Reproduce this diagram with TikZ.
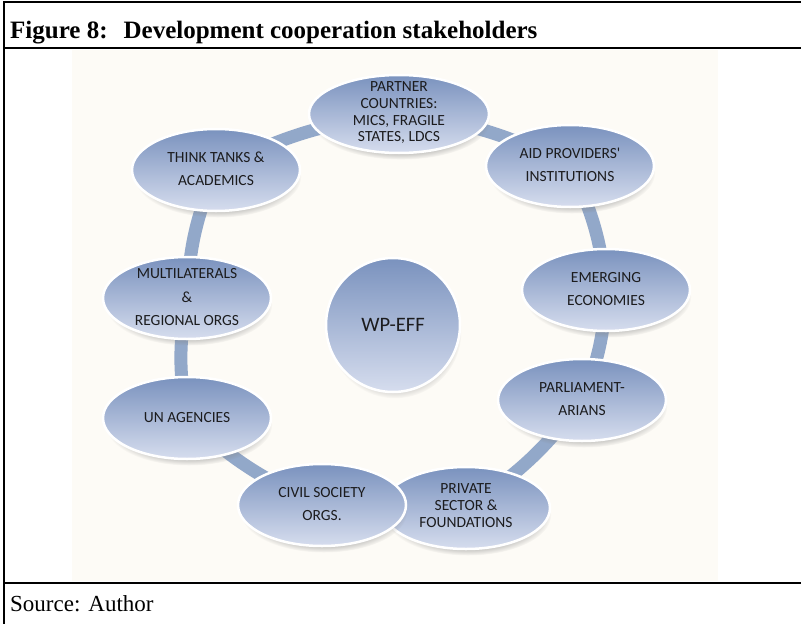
\documentclass[tikz,border=0pt]{standalone}
\usepackage{fontspec}
\setmainfont{Liberation Serif}
\newfontfamily\stakefont{Carlito}
\usepackage{tikz}
\usetikzlibrary{shapes.geometric}
\usetikzlibrary{shadows}
\usetikzlibrary{fadings}
\usetikzlibrary{backgrounds}

\definecolor{stktop}{RGB}{122,146,190}
\definecolor{stkbot}{RGB}{214,221,238}
\definecolor{ringblue}{RGB}{146,168,201}
\definecolor{panel}{RGB}{253,251,246}
\definecolor{stktext}{RGB}{28,28,30}

\newcommand{\stk}[1]{\smash{\makebox[0pt]{\raisebox{-3pt}{\begin{tabular}{@{}c@{}}#1\end{tabular}}}}}

\begin{document}
\begin{tikzpicture}[x=1pt,y=-1pt,
	stake/.style={ellipse,draw=white,line width=2.5pt,top color=stktop,bottom color=stkbot,
		minimum width=168pt,minimum height=82pt,inner sep=0pt,text=stktext,
		font=\stakefont\fontsize{15.5}{23.5}\selectfont,
		circular drop shadow={shadow xshift=2pt,shadow yshift=-7pt,opacity=.4,shadow scale=0.99}},
	tight/.style={font=\stakefont\fontsize{15.5}{16.8}\selectfont},
	ring/.style={draw=ringblue,line width=13pt}]
	\useasboundingbox (0,0) rectangle (801,624);
	% frame and captions
	\draw[line width=2pt] (4,624) -- (4,2) -- (801,2);
	\draw[line width=2.5pt] (4,48) -- (801,48);
	\draw[line width=2.5pt] (4,583) -- (801,583);
	\node[anchor=base west,inner sep=0pt,font=\bfseries\fontsize{25}{29}\selectfont] (title) at (10,38) {Figure 8:\hspace{16pt}Development cooperation stakeholders};
	\node[anchor=base west,inner sep=0pt,font=\fontsize{23}{27}\selectfont] (source) at (10,611) {Source:\hspace{8pt}Author};
	% stakeholders
	\node[stake,minimum width=180pt,minimum height=78pt,tight] (partner) at (399,114) {\stk{PARTNER\\COUNTRIES:\\MICS, FRAGILE\\STATES, LDCS}};
	\node[stake] (aid) at (570,166) {\stk{AID PROVIDERS\textquotesingle\\INSTITUTIONS}};
	\node[stake] (emerging) at (606,290) {\stk{EMERGING\\ECONOMIES}};
	\node[stake] (parliament) at (582,400) {\stk{PARLIAMENT-\\ARIANS}};
	\node[stake,tight] (private) at (466,508) {\stk{PRIVATE\\SECTOR \&\\FOUNDATIONS}};
	\node[stake] (civil) at (322,505) {\stk{CIVIL SOCIETY\\ORGS.}};
	\node[stake] (un) at (187,418) {\stk{UN AGENCIES}};
	\node[stake] (multi) at (187,298) {\stk{MULTILATERALS\\\&\\REGIONAL ORGS}};
	\node[stake] (think) at (216,170) {\stk{THINK TANKS \&\\ACADEMICS}};
	\node[stake,circle,minimum size=134pt,font=\stakefont\fontsize{20.5}{24}\selectfont] (wpeff) at (393,325) {WP-EFF};
	% ring behind the ellipses
	\begin{scope}[on background layer]
		\fill[panel] (72,50) rectangle (718,581);
		\path[ring] (think.center) edge[bend left=10] (partner.center)
			(partner.center) edge[bend left=10] (aid.center)
			(aid.center) edge[bend left=10] (emerging.center)
			(emerging.center) edge[bend left=10] (parliament.center)
			(parliament.center) edge[bend left=10] (private.center)
			(private.center) edge[bend left=10] (civil.center)
			(civil.center) edge[bend left=10] (un.center)
			(un.center) edge[bend left=10] (multi.center)
			(multi.center) edge[bend left=10] (think.center);
	\end{scope}
\end{tikzpicture}
\end{document}
